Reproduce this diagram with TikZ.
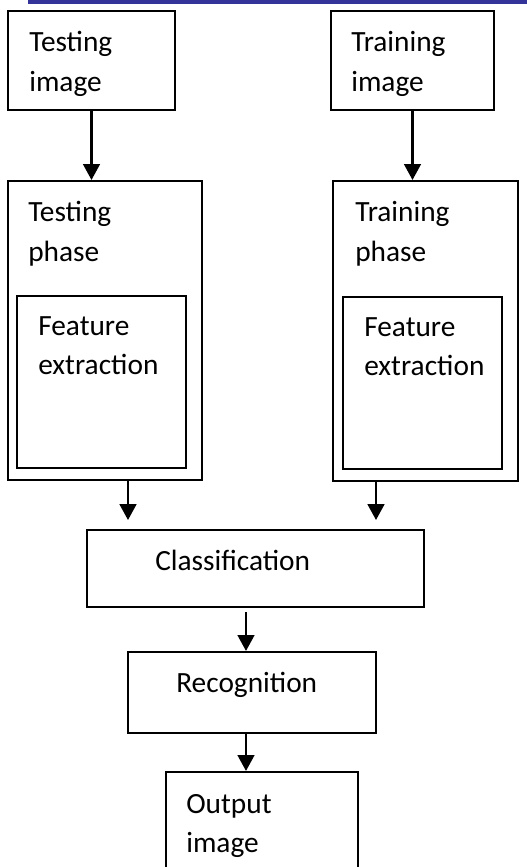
\documentclass[tikz,border=0pt]{standalone}
\usepackage{fontspec}
\setmainfont{Carlito}
\usetikzlibrary{positioning, arrows.meta, fit}
\definecolor{barblue}{HTML}{333399}

\begin{document}
\begin{tikzpicture}[
    x=0.02cm, y=-0.02cm,
    box/.style={rectangle, draw=black, line width=1.2pt, inner sep=0pt},
    lbl/.style={inner sep=0pt, align=left, font=\fontsize{16.7}{22.5}\selectfont},
    arrow/.style={-{Triangle[width=9.5pt,length=9pt]}, line width=1.2pt}
]
    \clip (0,0) rectangle (527,867);
    % Top bar
    \fill[barblue] (28,0) rectangle (527,4);

    % Input images
    \node[box, fit={(8,11) (175,110)}] (testimg) {};
    \node[box, fit={(331,11) (494,110)}] (trainimg) {};
    \node[lbl, below right=0.42cm and 0.44cm of testimg.north west] (testimgtxt) {Testing\\image};
    \node[lbl, below right=0.42cm and 0.42cm of trainimg.north west] (trainimgtxt) {Training\\image};

    % Phases
    \node[box, fit={(8,181) (202,480)}] (testph) {};
    \node[box, fit={(333,181) (518,481)}] (trainph) {};
    \node[lbl, below right=0.42cm and 0.42cm of testph.north west] (testphtxt) {Testing\\phase};
    \node[lbl, below right=0.42cm and 0.46cm of trainph.north west] (trainphtxt) {Training\\phase};

    % Feature extraction
    \node[box, fit={(17,296) (186,468)}] (testfeat) {};
    \node[box, fit={(343,297) (502,469)}] (trainfeat) {};
    \node[lbl, below right=0.42cm and 0.44cm of testfeat.north west] (testfeattxt) {Feature\\extraction};
    \node[lbl, below right=0.42cm and 0.44cm of trainfeat.north west] (trainfeattxt) {Feature\\extraction};

    % Classification, recognition, output
    \node[box, fit={(87,530) (424,607)}] (cls) {};
    \node[lbl, below right=0.42cm and 1.38cm of cls.north west] (clstxt) {Classification};
    \node[box, fit={(128,652) (376,733)}] (rec) {};
    \node[lbl, below right=0.42cm and 0.98cm of rec.north west] (rectxt) {Recognition};
    \node[box, fit={(166,772) (358,890)}] (out) {};
    \node[lbl, below right=0.46cm and 0.42cm of out.north west] (outtxt) {Output\\image};

    % Helper coordinates
    \coordinate (testin) at (128,520);
    \coordinate (trainin) at (376,520);
    \coordinate (clsout) at (246,612);

    % Connections
    \draw[arrow] (testimg.south) -- (testimg.south |- testph.north);
    \draw[arrow] (trainimg.south) -- (trainimg.south |- trainph.north);
    \draw[arrow] (testin |- testph.south) -- (testin);
    \draw[arrow] (trainin |- trainph.south) -- (trainin);
    \draw[arrow] (clsout) -- (clsout |- rec.north);
    \draw[arrow] (clsout |- rec.south) -- (clsout |- out.north);
\end{tikzpicture}
\end{document}
